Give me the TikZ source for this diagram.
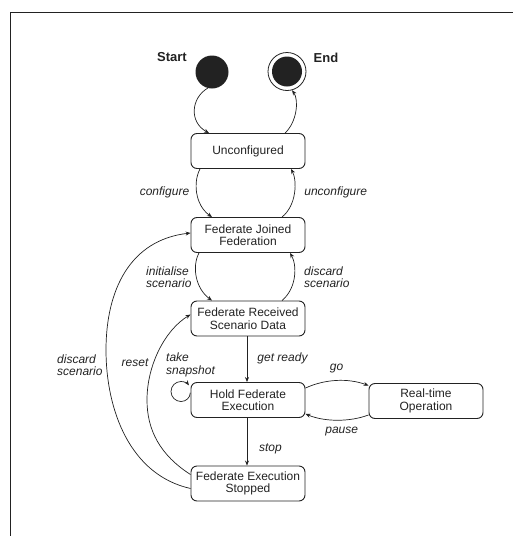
\documentclass[tikz,border=0pt]{standalone}
\usepackage{fontspec}
\setmainfont{Liberation Sans}
\usetikzlibrary{arrows.meta}
\definecolor{ink}{HTML}{222222}
\begin{document}
\begin{tikzpicture}[x=1pt,y=-1pt,
  state/.style={draw=ink, text=ink, line width=0.9pt, rounded corners=6pt, minimum width=114pt, minimum height=35pt, align=center, inner sep=0pt, font=\fontsize{12}{12.5}\selectfont},
  lbl/.style={text=ink, font=\fontsize{12}{12.5}\selectfont\itshape, inner sep=0pt},
  ttl/.style={text=ink, font=\fontsize{13}{13}\selectfont\bfseries, inner sep=0pt},
  arr/.style={draw=ink, line width=0.7pt, -{Stealth[length=5pt,width=4pt]}},
]
\useasboundingbox (0,0) rectangle (512,536);
\draw[ink, line width=1pt] (10.5,537) -- (10.5,12.3) -- (513,12.3);

% states
\node[state] (unc) at (248,151) {Unconfigured};
\node[state] (fjf) at (248,235) {Federate Joined\\Federation};
\node[state] (rsd) at (248,318.5) {Federate Received\\Scenario Data};
\node[state] (hold) at (248,400) {Hold Federate\\Execution};
\node[state] (rto) at (426,401) {Real-time\\Operation};
\node[state] (fes) at (248,483.5) {Federate Execution\\Stopped};

% start / end
\node[circle, fill=ink, minimum size=33pt, inner sep=0pt] (start) at (212,72) {};
\node[circle, draw=ink, line width=0.8pt, minimum size=38pt, inner sep=0pt] (end) at (287,71.5) {};
\node[circle, fill=ink, minimum size=30pt, inner sep=0pt] (endin) at (end) {};
\node[ttl] (startlbl) at (172,57.5) {Start};
\node[ttl] (endlbl) at (326,57.5) {End};

% labels
\node[lbl] (lconf) at (164.5,192) {configure};
\node[lbl] (lunconf) at (335.7,192) {unconfigure};
\node[lbl, anchor=west, align=left] (linit) at (146,277) {initialise\\scenario};
\node[lbl, anchor=west, align=left] (ldiscr) at (304,277) {discard\\scenario};
\node[lbl] (lready) at (282.5,358) {get ready};
\node[lbl, anchor=west, align=left] (lsnap) at (166,365) {take\\snapshot};
\node[lbl] (lgo) at (336.5,368.5) {go};
\node[lbl] (lpause) at (341.7,431.5) {pause};
\node[lbl] (lstop) at (270.5,449) {stop};
\node[lbl] (lreset) at (135,363) {reset};
\node[lbl, anchor=west, align=left] (ldiscl) at (57,365) {discard\\scenario};

% transitions
\draw[arr] (start.255) .. controls (191,98) and (189,122) .. ([xshift=-39pt]unc.north);
\draw[arr] ([xshift=37pt]unc.north) .. controls (297,122) and (299,100) .. (end.285);
\draw[arr] ([xshift=-48pt]unc.south) .. controls (193,182) and (195,205) .. ([xshift=-36pt]fjf.north);
\draw[arr] ([xshift=34pt]fjf.north) .. controls (297,205) and (297,180) .. ([xshift=43pt]unc.south);
\draw[arr] ([xshift=-49pt]fjf.south) .. controls (192,266) and (195,288) .. ([xshift=-36pt]rsd.north);
\draw[arr] ([xshift=34pt]rsd.north) .. controls (297,288) and (297,265) .. ([xshift=42pt]fjf.south);
\draw[arr] ([xshift=-1pt]rsd.south) -- ([xshift=-1pt]hold.north);
\draw[arr] ([xshift=-1pt]hold.south) -- ([xshift=-1pt]fes.north);
\draw[arr] ([yshift=-6pt]hold.north east) .. controls (325,379) and (348,378) .. ([yshift=-2.5pt]rto.north west);
\draw[arr] ([yshift=4pt]rto.south west) .. controls (350,422) and (325,422) .. ([yshift=4pt]hold.south east);
% self loop: take snapshot
\draw[arr] ([xshift=-0.2pt,yshift=-10.7pt]hold.north west)
  .. controls (190,398) and (185.9,401.5) .. (181,401.5)
  .. controls (175.5,401.5) and (171,397) .. (171,391.5)
  .. controls (171,386) and (175.5,381.5) .. (181,381.5)
  .. controls (184.3,381.5) and (187.3,383.1) .. ([xshift=-1.6pt,yshift=-3.3pt]hold.north west);
\draw[arr] ([yshift=-9pt]fes.north west) .. controls (160,455) and (147,430) .. (147,400) .. controls (147,365) and (165,330) .. ([yshift=4pt]rsd.west);
\draw[arr] ([yshift=-5pt]fes.west) .. controls (130,475) and (106,410) .. (106,350) .. controls (106,290) and (130,240) .. ([yshift=2pt]fjf.west);
\end{tikzpicture}
\end{document}
